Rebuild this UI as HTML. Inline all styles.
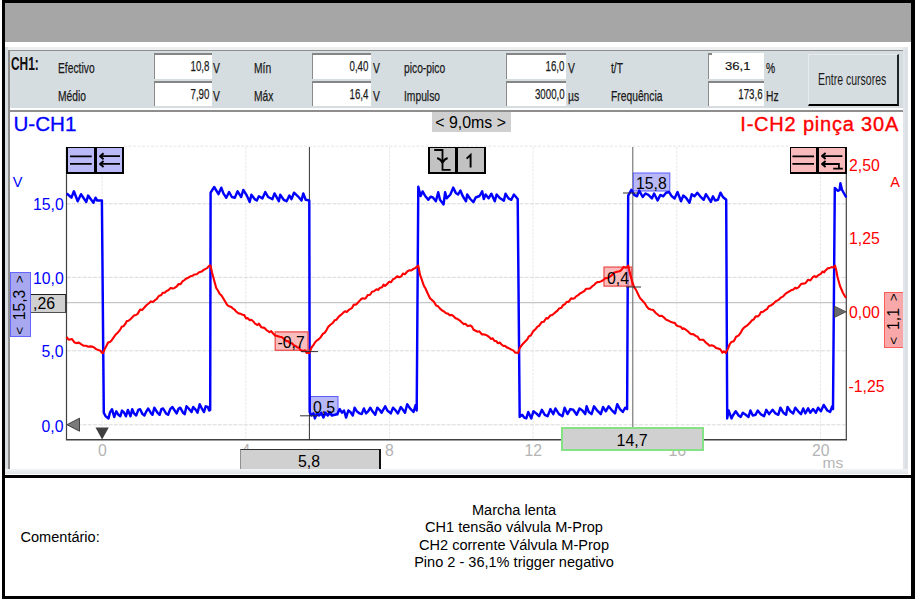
<!DOCTYPE html>
<html><head><meta charset="utf-8">
<style>
html,body{margin:0;padding:0;background:#fff;}
body{width:916px;height:600px;position:relative;overflow:hidden;font-family:"Liberation Sans",sans-serif;}
.a{position:absolute;}
.t{position:absolute;white-space:nowrap;line-height:1;}
.n{position:absolute;white-space:nowrap;line-height:1;font-size:14.6px;color:#1a1a1a;-webkit-text-stroke:0.25px #1a1a1a;transform-origin:0 50%;transform:scaleX(0.705);}
.nr{position:absolute;white-space:nowrap;line-height:1;font-size:14.6px;color:#1a1a1a;-webkit-text-stroke:0.25px #1a1a1a;transform-origin:100% 50%;transform:scaleX(0.665);text-align:right;}
.box{position:absolute;background:#fff;border-top:2px solid #858585;border-left:1.5px solid #8a8a8a;box-sizing:border-box;}
.ax{position:absolute;white-space:nowrap;line-height:1;font-size:15.8px;margin-top:0.3px;}
.g{stroke:#dadada;stroke-width:1;stroke-dasharray:4 1.2;}
.gv{stroke:#e7e7e7;stroke-width:1;stroke-dasharray:2.5 1.2;}
.g2{stroke:#e6e6e6;stroke-width:1;stroke-dasharray:3 1.5;}
.bk{font-size:13.5px;vertical-align:1.2px;}
</style></head>
<body>
<!-- outer frame -->
<div class="a" style="left:2px;top:0;width:912.8px;height:598.8px;background:#000;"></div>
<div class="a" style="left:5px;top:2.9px;width:906px;height:39.1px;background:#a6a6a6;"></div>
<div class="a" style="left:5px;top:42px;width:906px;height:433px;background:#fff;"></div>
<div class="a" style="left:5px;top:478px;width:906px;height:117.8px;background:#fff;"></div>

<!-- window inner frame -->
<div class="a" style="left:5px;top:46.8px;width:903px;height:3px;background:#eceef0;"></div>
<div class="a" style="left:5px;top:46.8px;width:3px;height:427px;background:#d8dde2;"></div>
<div class="a" style="left:902.8px;top:46.8px;width:4.9px;height:427px;background:#e2e6ea;"></div>
<div class="a" style="left:904.8px;top:49px;width:1.8px;height:424px;background:#d9dee3;"></div>
<div class="a" style="left:5px;top:468.7px;width:902.7px;height:5.2px;background:linear-gradient(#f2f3f4,#dfe4e7);"></div>
<!-- gray sunken lines -->
<div class="a" style="left:8px;top:49.5px;width:1.8px;height:419.2px;background:#8e8e8e;"></div>
<div class="a" style="left:8px;top:49.5px;width:894.8px;height:1.7px;background:#8e8e8e;"></div>
<!-- measurement panel -->
<div class="a" style="left:9.8px;top:51.2px;width:893px;height:56.6px;background:#d6dde0;"></div>
<div class="a" style="left:9.8px;top:107.8px;width:893px;height:2px;background:#fdfdfd;"></div>
<div class="a" style="left:8px;top:109.8px;width:894.8px;height:2px;background:#8e8e8e;"></div>
<!-- chart area -->
<div class="a" style="left:9.8px;top:111.8px;width:893px;height:356.9px;background:#fff;"></div>

<!-- panel content -->
<div class="t" style="left:11px;top:55px;font-size:18px;font-weight:bold;color:#111;transform-origin:0 50%;transform:scaleX(0.66);">CH1:</div>
<div class="n" style="left:57.5px;top:61px;">Efectivo</div>
<div class="n" style="left:57.5px;top:88.6px;">Médio</div>
<div class="box" style="left:154px;top:53px;width:57.5px;height:26px;"></div>
<div class="box" style="left:154px;top:81px;width:57.5px;height:25px;"></div>
<div class="nr" style="right:706.3px;top:59px;">10,8</div>
<div class="nr" style="right:706.3px;top:86.6px;">7,90</div>
<div class="n" style="left:213px;top:61px;">V</div>
<div class="n" style="left:213px;top:88.6px;">V</div>
<div class="n" style="left:254px;top:61px;">Mín</div>
<div class="n" style="left:254px;top:88.6px;">Máx</div>
<div class="box" style="left:312px;top:53px;width:58.5px;height:26px;"></div>
<div class="box" style="left:312px;top:81px;width:58.5px;height:25px;"></div>
<div class="nr" style="right:547.3px;top:59px;">0,40</div>
<div class="nr" style="right:547.3px;top:86.6px;">16,4</div>
<div class="n" style="left:372.5px;top:61px;">V</div>
<div class="n" style="left:372.5px;top:88.6px;">V</div>
<div class="n" style="left:403.5px;top:61px;">pico-pico</div>
<div class="n" style="left:403.5px;top:88.6px;">Impulso</div>
<div class="box" style="left:505.5px;top:53px;width:60.5px;height:26px;"></div>
<div class="box" style="left:505.5px;top:81px;width:60.5px;height:25px;"></div>
<div class="nr" style="right:351.8px;top:59px;">16,0</div>
<div class="nr" style="right:351.8px;top:86.6px;">3000,0</div>
<div class="n" style="left:567.5px;top:61px;">V</div>
<div class="n" style="left:567.5px;top:88.6px;">µs</div>
<div class="n" style="left:611px;top:61px;">t/T</div>
<div class="n" style="left:611px;top:88.6px;">Frequência</div>
<div class="box" style="left:707.5px;top:53px;width:56.5px;height:26px;"></div>
<div class="box" style="left:707.5px;top:81px;width:56.5px;height:25px;"></div>
<div class="a" style="left:712px;top:53px;width:52px;height:24px;background:#fff;"></div>
<div class="t" style="left:724.6px;top:60.3px;font-size:11.7px;transform-origin:0 50%;transform:scaleX(1.12);-webkit-text-stroke:0.15px #000;color:#111;">36,1</div>
<div class="nr" style="right:153.3px;top:86.6px;">173,6</div>
<div class="n" style="left:766px;top:61px;">%</div>
<div class="n" style="left:766px;top:88.6px;">Hz</div>
<!-- button -->
<div class="a" style="left:808px;top:53.5px;width:90.5px;height:52px;background:#d6dde0;box-sizing:border-box;border-right:2px solid #1c2426;border-bottom:2px solid #000;border-top:1px solid #e6ecee;border-left:1px solid #e6ecee;"></div>
<div class="t" style="left:818.3px;top:70.5px;font-size:17.3px;color:#1a1a1a;transform-origin:0 50%;transform:scaleX(0.607);">Entre cursores</div>

<!-- chart titles -->
<div class="t" style="left:13.5px;top:113.5px;font-size:20.6px;color:#0000ff;-webkit-text-stroke:0.3px #0000ff;">U-CH1</div>
<div class="t" style="left:740.3px;top:113.5px;font-size:20px;color:#ff0000;letter-spacing:0.8px;-webkit-text-stroke:0.35px #ff0000;">I-CH2 pinça 30A</div>
<div class="a" style="left:431.5px;top:112px;width:79px;height:20px;background:#d0d0d0;"></div>
<div class="ax" style="left:435.3px;top:114.4px;color:#000;font-size:15.9px;">&lt; 9,0ms &gt;</div>

<!-- axis labels -->
<div class="ax" style="left:12.7px;top:174.3px;color:#0000ff;font-size:14.5px;">V</div>
<div class="ax" style="left:33px;top:197px;color:#0000ff;">15,0</div>
<div class="ax" style="left:33px;top:270.5px;color:#0000ff;">10,0</div>
<div class="ax" style="left:41.5px;top:344px;color:#0000ff;">5,0</div>
<div class="ax" style="left:41.5px;top:418.5px;color:#0000ff;">0,0</div>
<div class="ax" style="left:849px;top:157.5px;color:#ff0000;">2,50</div>
<div class="ax" style="left:849px;top:231px;color:#ff0000;">1,25</div>
<div class="ax" style="left:849px;top:305px;color:#ff0000;">0,00</div>
<div class="ax" style="left:848.5px;top:378.5px;color:#ff0000;">-1,25</div>
<div class="ax" style="left:890.3px;top:174.3px;color:#ff0000;font-size:14.5px;">A</div>
<div class="ax" style="left:98px;top:442.5px;color:#b4b4b4;">0</div>
<div class="ax" style="left:241.5px;top:442.5px;color:#b4b4b4;">4</div>
<div class="ax" style="left:385px;top:442.5px;color:#b4b4b4;">8</div>
<div class="ax" style="left:524.5px;top:442.5px;color:#b4b4b4;">12</div>
<div class="ax" style="left:668.5px;top:442.5px;color:#b4b4b4;">16</div>
<div class="ax" style="left:812px;top:442.5px;color:#b4b4b4;">20</div>
<div class="ax" style="left:822.5px;top:454.5px;color:#b4b4b4;font-size:15.5px;">ms</div>

<!-- chart svg -->
<svg class="a" style="left:0;top:0;" width="916" height="600" viewBox="0 0 916 600">
<line x1="102.1" y1="147" x2="102.1" y2="439" class="gv"/><line x1="245.8" y1="147" x2="245.8" y2="439" class="gv"/><line x1="389.5" y1="147" x2="389.5" y2="439" class="gv"/><line x1="533.1" y1="147" x2="533.1" y2="439" class="gv"/><line x1="676.8" y1="147" x2="676.8" y2="439" class="gv"/><line x1="820.5" y1="147" x2="820.5" y2="439" class="gv"/><line x1="67" y1="203.8" x2="846" y2="203.8" class="g"/><line x1="67" y1="277.3" x2="846" y2="277.3" class="g"/><line x1="67" y1="350.8" x2="846" y2="350.8" class="g"/><line x1="67" y1="424.8" x2="846" y2="424.8" class="g"/><line x1="124" y1="146.2" x2="789" y2="146.2" class="g2"/>
<!-- horizontal cursor -->
<line x1="66" y1="302.6" x2="846" y2="302.6" stroke="#c6c6c6" stroke-width="1.3"/>
<!-- axes -->
<line x1="66.5" y1="147" x2="66.5" y2="440" stroke="#404040" stroke-width="1.2"/>
<line x1="846.3" y1="147" x2="846.3" y2="440" stroke="#404040" stroke-width="1.2"/>
<line x1="66" y1="439.8" x2="847" y2="439.8" stroke="#404040" stroke-width="1.5"/>
<!-- vertical cursors -->
<line x1="309.4" y1="147" x2="309.4" y2="440" stroke="#303030" stroke-width="1"/>
<line x1="632.8" y1="147" x2="632.8" y2="428" stroke="#606060" stroke-width="1"/>
<rect x="310.5" y="396.5" width="27.5" height="18.5" fill="#b8b8f6" stroke="#5c5cff" stroke-width="1"/>
<rect x="633.3" y="173" width="36.5" height="18" fill="#b8b8f6" stroke="#5c5cff" stroke-width="1"/>
<!-- waveforms -->
<path d="M66.8 193.5 L71.4 197.7 L73.9 191.3 L77.7 201.3 L81.0 194.2 L86.3 202.0 L88.1 195.6 L93.4 202.7 L95.5 197.7 L97.2 200.5 L101.9 200.5 L103.8 412.7 L105.6 416.3 L108.5 418.4 L109.9 412.7 L112.0 409.2 L114.2 417.0 L116.3 411.3 L118.4 414.8 L120.3 416.3 L122.0 410.6 L124.1 412.7 L125.9 416.3 L127.9 409.9 L130.5 416.3 L132.2 409.2 L134.0 413.4 L136.2 415.5 L138.3 409.9 L140.1 409.2 L142.5 414.1 L144.4 415.5 L146.4 411.3 L148.2 408.5 L151.1 413.4 L152.5 414.8 L154.3 407.7 L157.4 412.7 L159.6 414.8 L161.4 409.2 L163.1 408.5 L166.0 413.4 L168.1 414.8 L170.2 409.2 L172.3 407.0 L175.2 411.3 L176.6 413.4 L178.7 408.5 L180.2 407.7 L183.0 412.7 L184.7 414.1 L186.5 406.3 L188.7 408.5 L191.5 412.0 L193.2 407.0 L195.8 409.9 L197.5 412.7 L199.7 404.2 L202.2 409.2 L204.0 412.0 L205.7 406.3 L207.8 407.0 L209.2 410.6 L210.2 409.9 L210.6 192.7 L214.2 187.0 L218.5 194.1 L221.3 187.7 L223.4 193.4 L226.3 197.7 L229.1 192.0 L231.9 197.0 L234.8 197.7 L237.6 191.3 L241.2 197.0 L243.3 189.9 L246.8 195.5 L249.7 201.9 L251.4 194.8 L254.6 199.1 L256.8 200.5 L258.9 196.3 L262.4 198.4 L265.3 192.0 L268.1 197.0 L272.4 199.1 L274.5 193.4 L278.8 201.2 L280.2 194.8 L283.7 199.8 L286.6 201.2 L289.4 195.5 L291.5 199.1 L294.0 192.7 L297.9 196.3 L301.5 200.5 L303.3 193.4 L305.7 199.8 L309.3 200.5 L309.7 412.0 L311.4 415.5 L313.5 413.4 L314.9 418.4 L317.0 413.4 L319.2 415.5 L321.3 412.7 L323.4 417.6 L325.5 412.7 L327.7 415.5 L329.8 412.0 L331.9 415.5 L334.8 414.8 L337.2 414.1 L339.7 409.1 L341.9 412.7 L344.0 410.5 L346.1 417.6 L348.3 410.5 L350.4 412.0 L352.8 415.5 L354.6 407.7 L356.8 411.3 L359.6 413.4 L361.7 414.1 L363.9 408.4 L366.0 413.4 L368.1 411.3 L370.3 407.7 L372.4 411.3 L375.2 414.8 L377.3 407.7 L379.5 409.8 L381.6 412.7 L385.2 406.3 L387.3 410.5 L390.8 413.4 L393.0 407.7 L395.1 409.8 L397.9 413.4 L400.8 407.0 L402.9 409.8 L405.0 412.7 L407.2 404.2 L410.0 408.4 L413.5 412.0 L415.7 404.9 L416.7 410.5 L418.3 186.8 L420.6 196.0 L422.6 191.4 L425.2 196.0 L428.3 199.8 L430.6 196.7 L432.9 197.5 L435.9 201.3 L438.2 192.2 L440.0 199.8 L443.6 204.4 L445.1 192.2 L446.6 198.3 L450.4 194.5 L453.2 187.6 L455.8 192.9 L458.1 194.5 L460.4 190.6 L462.7 196.0 L466.0 201.3 L467.2 194.5 L470.3 199.0 L473.4 202.1 L475.7 197.5 L479.5 196.0 L482.2 191.4 L483.8 199.0 L485.6 194.5 L488.6 198.3 L491.4 193.7 L494.8 201.3 L496.6 194.5 L500.1 198.3 L503.9 200.6 L505.5 193.7 L508.5 198.3 L511.3 199.8 L513.9 194.5 L517.7 199.0 L519.7 416.9 L522.1 414.8 L524.2 417.6 L526.3 418.4 L528.2 412.0 L531.3 418.4 L533.4 411.3 L536.3 413.4 L539.1 416.2 L541.9 409.8 L544.8 414.8 L547.6 416.2 L550.4 409.1 L553.3 414.1 L555.4 408.4 L559.0 414.1 L562.5 416.2 L564.6 407.7 L567.5 414.1 L570.3 409.1 L573.2 409.8 L576.7 414.8 L579.5 408.4 L582.4 410.5 L585.2 414.1 L586.6 406.3 L588.8 412.0 L591.6 414.1 L594.0 406.3 L596.6 409.8 L600.8 414.1 L603.0 407.0 L605.8 411.3 L608.6 406.3 L611.5 409.8 L615.0 413.4 L617.2 404.2 L620.0 409.1 L622.8 412.0 L625.2 407.7 L627.1 409.1 L628.2 195.6 L631.4 189.9 L634.2 194.9 L637.0 196.3 L639.2 190.6 L642.7 197.0 L645.5 193.5 L648.4 194.9 L651.9 198.4 L654.1 193.5 L657.6 200.5 L660.4 194.9 L663.3 196.3 L666.1 192.7 L669.0 192.0 L671.8 196.3 L674.6 198.4 L677.5 192.0 L681.0 201.3 L683.2 195.6 L686.0 197.7 L689.5 202.7 L691.7 194.2 L694.5 196.3 L697.3 192.7 L700.2 196.3 L703.7 199.8 L705.9 194.2 L708.7 198.4 L710.8 202.0 L713.0 196.3 L715.1 200.5 L717.9 199.8 L720.5 192.7 L722.9 197.0 L726.2 199.8 L727.2 418.4 L728.6 410.5 L731.5 418.4 L732.9 415.5 L735.7 411.3 L738.6 415.5 L740.7 416.9 L742.8 412.7 L745.7 414.8 L748.5 416.9 L750.4 410.5 L752.8 415.5 L755.6 414.8 L757.7 410.5 L760.6 414.1 L764.1 416.2 L766.3 409.8 L769.1 414.1 L772.6 409.8 L775.5 413.4 L778.3 414.8 L780.4 407.7 L783.3 412.7 L786.1 414.8 L787.5 407.0 L790.4 411.3 L793.2 413.4 L795.3 407.7 L798.2 411.3 L801.0 414.1 L803.2 408.4 L805.3 413.4 L808.1 408.4 L810.3 412.7 L813.1 409.1 L815.9 412.7 L818.1 407.7 L820.9 411.3 L823.7 404.9 L827.3 410.5 L830.1 412.0 L832.2 406.3 L833.0 409.1 L834.8 187.9 L837.9 190.8 L839.6 190.0 L840.4 183.3 L842.1 190.0 L846.3 197.5" fill="none" stroke="#0000ff" stroke-width="2.45" stroke-linejoin="round"/>
<rect x="275.2" y="331.9" width="32.8" height="18.4" fill="rgba(248,172,172,0.8)" stroke="#ee5050" stroke-width="1.3"/>
<rect x="604" y="267.1" width="27.8" height="19" fill="rgba(248,172,172,0.8)" stroke="#ee5050" stroke-width="1.3"/>
<path d="M66.5 337.0 L68.3 339.4 L69.9 339.6 L72.0 339.0 L74.4 342.4 L76.6 343.1 L79.0 342.6 L81.0 344.1 L83.4 345.6 L85.8 345.8 L88.3 346.8 L90.5 346.4 L91.9 346.6 L93.8 347.2 L96.2 349.1 L98.3 350.0 L100.5 350.7 L101.9 352.8 L103.0 353.0 L105.0 348.4 L106.5 345.8 L108.2 342.3 L109.9 342.1 L111.6 340.4 L114.2 336.6 L116.0 334.2 L118.2 332.2 L120.4 329.3 L121.9 326.5 L123.6 326.2 L125.3 323.9 L126.8 321.1 L128.5 320.8 L130.7 319.0 L132.5 317.1 L134.4 315.3 L136.0 315.0 L137.6 313.9 L140.1 309.6 L142.1 310.1 L144.6 307.2 L146.4 305.3 L148.9 303.3 L151.0 301.4 L153.0 301.9 L154.6 300.4 L156.6 299.2 L158.8 296.0 L161.3 295.0 L162.7 292.8 L164.7 292.7 L166.5 290.9 L168.3 290.2 L170.7 287.9 L173.0 288.6 L174.6 287.9 L176.8 286.4 L178.6 284.0 L180.4 284.3 L182.5 281.4 L184.5 280.0 L185.9 278.7 L188.3 277.7 L190.8 276.2 L192.6 275.8 L194.2 274.5 L196.7 274.3 L199.1 272.3 L201.6 271.6 L203.7 269.9 L205.1 269.1 L207.1 268.1 L209.2 265.7 L210.5 265.6 L212.1 272.8 L213.9 279.6 L216.2 287.9 L217.9 290.5 L219.6 293.7 L221.5 295.5 L223.1 298.1 L225.6 302.3 L227.2 305.1 L229.8 306.6 L231.4 307.1 L232.9 308.6 L234.4 309.4 L236.1 311.5 L238.6 313.4 L240.5 313.7 L242.5 314.8 L244.3 315.1 L246.1 318.4 L247.6 318.1 L249.8 320.3 L251.4 319.8 L253.1 321.2 L255.1 323.7 L257.5 325.0 L258.9 323.7 L261.2 327.2 L263.1 327.6 L264.5 327.9 L267.0 330.5 L269.5 332.2 L271.2 331.1 L272.7 333.0 L275.0 335.4 L277.2 335.9 L279.6 336.8 L281.6 337.0 L284.0 338.8 L286.5 341.3 L288.2 341.0 L289.9 343.3 L292.2 343.3 L293.6 345.2 L295.7 346.0 L297.4 347.5 L298.8 347.6 L300.8 350.3 L303.0 351.2 L304.9 350.4 L306.6 353.0 L308.9 352.3 L309.3 353.0 L311.5 347.5 L313.2 345.3 L315.7 341.5 L317.2 340.3 L319.1 338.9 L320.7 337.2 L323.0 333.7 L324.6 332.9 L326.4 330.3 L328.1 327.1 L330.4 324.8 L333.0 322.7 L334.6 320.3 L336.5 319.7 L339.0 316.3 L340.9 314.9 L343.5 312.5 L344.9 311.2 L346.8 311.9 L349.2 309.6 L351.8 308.2 L353.6 304.9 L356.2 304.4 L357.6 303.0 L359.5 300.9 L361.3 299.0 L362.7 298.3 L364.5 298.8 L366.0 297.8 L367.7 295.1 L370.1 294.7 L372.0 291.7 L374.0 291.3 L376.5 289.3 L378.3 290.0 L379.7 287.9 L382.1 287.3 L383.6 284.6 L385.0 285.9 L386.7 284.4 L389.2 281.8 L390.9 282.3 L393.1 279.2 L395.3 278.1 L397.1 276.3 L399.4 277.2 L401.5 276.1 L403.0 273.5 L404.9 274.2 L407.5 271.3 L409.2 270.4 L411.2 270.5 L412.8 269.3 L415.1 268.1 L417.4 266.3 L418.3 265.6 L420.1 275.1 L421.6 279.1 L423.9 285.9 L425.4 288.3 L427.5 293.0 L430.0 298.3 L432.6 300.6 L434.1 302.0 L436.1 305.6 L438.1 306.3 L440.0 308.6 L442.2 310.5 L444.6 311.9 L446.1 313.3 L447.9 313.6 L449.7 315.2 L451.4 314.9 L453.1 315.7 L455.5 318.2 L457.3 318.8 L459.9 320.6 L461.6 322.3 L463.8 324.1 L465.3 323.7 L467.7 326.0 L470.2 325.4 L471.9 326.6 L473.6 329.7 L475.7 330.8 L477.5 331.7 L479.4 331.3 L481.8 334.4 L483.3 334.4 L485.5 334.7 L487.3 335.6 L488.9 336.8 L491.1 339.0 L492.7 338.3 L494.5 341.0 L496.1 341.0 L497.8 343.2 L499.8 342.5 L501.3 344.2 L503.4 346.0 L504.9 345.7 L507.1 347.6 L508.9 348.3 L511.4 349.6 L513.5 350.6 L515.4 352.7 L518.0 352.6 L518.2 353.0 L519.8 347.8 L522.3 344.5 L524.7 342.0 L527.2 339.5 L528.8 336.4 L530.8 335.5 L533.3 331.1 L535.5 329.2 L537.5 326.6 L539.2 325.7 L541.7 322.1 L543.7 321.8 L546.3 318.0 L547.8 318.6 L550.4 315.3 L551.9 315.2 L553.7 313.7 L555.9 311.9 L557.5 310.6 L559.1 308.4 L561.5 307.7 L563.2 304.9 L565.0 304.2 L566.9 301.7 L568.6 301.9 L571.1 298.4 L573.1 298.8 L574.6 298.1 L576.1 296.4 L578.2 295.1 L580.0 293.5 L582.1 292.3 L584.3 291.0 L586.2 288.8 L588.3 288.7 L590.0 288.4 L592.3 286.2 L594.0 285.2 L595.5 283.4 L597.4 282.1 L599.3 282.0 L600.8 281.4 L602.3 280.7 L604.6 278.8 L606.1 278.0 L607.9 278.0 L609.5 276.9 L612.1 275.1 L614.5 272.4 L617.0 271.7 L619.6 271.3 L621.2 270.1 L623.7 266.9 L625.5 267.7 L627.1 267.2 L628.3 265.6 L629.9 273.1 L632.4 282.1 L634.1 287.1 L635.9 289.6 L637.5 293.0 L640.0 298.1 L642.5 300.7 L644.8 303.2 L646.9 306.7 L648.7 308.7 L650.8 309.4 L653.2 310.0 L655.8 313.0 L657.7 314.5 L659.4 316.0 L661.5 315.7 L663.8 317.3 L665.4 319.0 L666.9 320.1 L668.6 320.7 L671.2 322.1 L673.4 322.8 L674.8 322.9 L676.4 325.3 L678.3 326.2 L680.7 326.7 L682.4 329.0 L683.8 328.3 L685.7 329.6 L687.5 331.0 L689.6 333.1 L691.2 334.2 L693.2 334.1 L695.7 335.9 L697.3 336.4 L699.5 339.6 L701.8 339.8 L703.5 339.9 L705.7 342.5 L707.5 343.8 L709.5 345.7 L711.7 345.3 L714.2 346.2 L716.3 348.3 L718.0 348.4 L720.3 349.3 L722.4 352.6 L723.9 351.4 L725.8 353.0 L728.0 348.6 L729.6 344.5 L731.3 342.0 L733.8 341.3 L736.1 336.7 L738.5 335.6 L740.4 333.2 L742.4 329.5 L743.9 327.8 L745.4 326.6 L747.7 325.1 L750.1 322.6 L751.8 320.5 L753.7 319.4 L755.7 316.4 L757.9 316.4 L759.6 314.8 L761.0 312.1 L762.7 312.0 L765.2 310.1 L767.0 309.1 L768.8 306.2 L771.3 305.2 L773.5 303.6 L776.1 301.1 L778.5 299.9 L780.9 297.6 L783.2 296.4 L785.0 294.3 L787.1 292.6 L789.6 291.3 L791.0 290.3 L793.5 289.4 L795.1 287.7 L796.6 288.5 L798.7 287.1 L801.0 284.1 L803.1 283.6 L805.5 283.2 L808.0 279.8 L810.4 280.5 L812.9 277.0 L814.6 276.1 L816.0 277.1 L818.4 275.2 L820.8 273.8 L822.5 271.5 L824.1 272.3 L825.7 270.2 L827.6 268.4 L829.3 268.1 L831.6 267.1 L833.4 267.6 L835.0 265.6 L836.2 270.0 L837.5 277.0 L840.0 286.0 L843.0 293.0 L846.0 298.0" fill="none" stroke="#ff0000" stroke-width="2.1" stroke-linejoin="round"/>
<!-- ticks -->
<line x1="301" y1="351.6" x2="318" y2="351.6" stroke="#303030" stroke-width="1"/>
<line x1="300" y1="415.8" x2="318" y2="415.8" stroke="#303030" stroke-width="1"/>
<line x1="623" y1="193" x2="638" y2="193" stroke="#303030" stroke-width="1"/>
<line x1="626" y1="287" x2="641" y2="287" stroke="#303030" stroke-width="1"/>
<!-- markers -->
<polygon points="67,424.7 79.5,418.2 79.5,431.2" fill="#7a7a7a" stroke="#404040" stroke-width="1"/>
<polygon points="95.5,427.5 108.8,427.5 102.1,439.5" fill="#404040"/>
<polygon points="834.5,306.2 846,311.8 834.5,317.4" fill="#6a6a6a" stroke="#404040" stroke-width="0.8"/>
</svg>

<!-- icon boxes -->
<div class="a" style="left:66px;top:146.6px;width:57.5px;height:27.4px;background:#000;"></div>
<div class="a" style="left:67.6px;top:148.2px;width:26.6px;height:24.2px;background:#babaf8;"></div>
<div class="a" style="left:96.5px;top:148.2px;width:25.4px;height:24.2px;background:#babaf8;"></div>
<div class="a" style="left:428.2px;top:146.6px;width:57.4px;height:27.5px;background:#000;"></div>
<div class="a" style="left:429.9px;top:148.3px;width:25.4px;height:24.1px;background:#c2c2c2;"></div>
<div class="a" style="left:458.2px;top:148.3px;width:25.7px;height:24.1px;background:#c2c2c2;"></div>
<div class="a" style="left:789.5px;top:146.6px;width:57.5px;height:27.4px;background:#000;"></div>
<div class="a" style="left:791.1px;top:148.2px;width:25.1px;height:24.2px;background:#f8baba;"></div>
<div class="a" style="left:818.7px;top:148.2px;width:26.7px;height:24.2px;background:#f8baba;"></div>
<svg class="a" style="left:0;top:0;" width="916" height="600" viewBox="0 0 916 600" fill="none" stroke="#000" stroke-width="1.9">
<path d="M70 156.4H91.7 M70 163.9H91.7" stroke-width="1.8"/>
<path d="M100.5 156.2H120 M100.5 163.9H120" stroke-width="1.8"/>
<path d="M103.6 153.2L100 156.2L103.6 159.2 M103.6 160.9L100 163.9L103.6 166.9" stroke-width="1.9" stroke-linejoin="round"/>
<path d="M434.2 150H442.5V169.8H450.6" stroke-width="1.8"/>
<path d="M437.2 158Q440.5 159 442.5 162.4Q444.5 159 447.6 158" stroke-width="2.2"/>
<path d="M466.6 158.6L470.6 155V167.6" stroke-width="1.9"/>
<path d="M792.4 156.4H814 M792.4 163.9H814" stroke-width="1.8"/>
<path d="M822.5 156.1H842.4 M822.5 164H838.9V168.7 M833.2 168.7H842.8" stroke-width="1.8"/>
<path d="M825.6 153.1L822 156.1L825.6 159.1 M825.6 161L822 164L825.6 167" stroke-width="1.9" stroke-linejoin="round"/>
</svg>

<!-- cursor value labels -->
<div class="ax" style="left:277.5px;top:334.5px;color:#000;">-0,7</div>
<div class="ax" style="left:313px;top:399.5px;color:#000;">0,5</div>
<div class="ax" style="left:636px;top:175.5px;color:#000;">15,8</div>
<div class="ax" style="left:607px;top:270.5px;color:#000;">0,4</div>

<!-- side range labels -->
<div class="a" style="left:9.5px;top:271.5px;width:21.5px;height:65.5px;box-sizing:border-box;background:#a8a8f0;border:1px solid #6464ff;"></div>
<div class="ax" style="left:20.2px;top:304.6px;color:#000;font-size:15.7px;word-spacing:2.2px;transform:translate(-50%,-50%) rotate(-90deg);"><span class="bk">&lt;</span> 15,3 <span class="bk">&gt;</span></div>
<div class="a" style="left:883.5px;top:291.5px;width:19.5px;height:56px;box-sizing:border-box;background:#f8a8a8;border:1px solid #ff5a5a;border-right:none;"></div>
<div class="ax" style="left:893.5px;top:318.7px;color:#000;font-size:15.7px;word-spacing:2.6px;transform:translate(-50%,-50%) rotate(-90deg);"><span class="bk">&lt;</span> 1,1 <span class="bk">&gt;</span></div>
<!-- 8,26 box -->
<div class="a" style="left:31px;top:293.5px;width:34.5px;height:19.5px;box-sizing:border-box;background:#d0d0d0;border-top:1.5px solid #202020;border-bottom:1.5px solid #505050;border-right:1.5px solid #404040;"></div>
<div class="ax" style="left:33px;top:296px;color:#000;">,26</div>

<!-- bottom cursor boxes -->
<div class="a" style="left:239.5px;top:449px;width:141px;height:20px;box-sizing:border-box;background:#d0d0d0;border-top:1.5px solid #303030;border-left:1px solid #909090;border-right:2.5px solid #101010;"></div>
<div class="ax" style="left:298px;top:453.5px;color:#000;">5,8</div>
<div class="a" style="left:561px;top:427px;width:142.5px;height:23.5px;box-sizing:border-box;background:#d0d0d0;border:2.5px solid #86e086;"></div>
<div class="ax" style="left:616.5px;top:432.4px;color:#000;font-size:16px;">14,7</div>

<!-- comment -->
<div class="t" style="left:20.5px;top:529.8px;font-size:14.55px;color:#000;">Comentário:</div>
<div class="t" style="left:314px;width:400px;text-align:center;top:502.5px;font-size:14.55px;color:#000;">Marcha lenta</div>
<div class="t" style="left:314px;width:400px;text-align:center;top:520px;font-size:14.55px;color:#000;">CH1 tensão válvula M-Prop</div>
<div class="t" style="left:314px;width:400px;text-align:center;top:537.5px;font-size:14.55px;color:#000;">CH2 corrente Válvula M-Prop</div>
<div class="t" style="left:314px;width:400px;text-align:center;top:555px;font-size:14.55px;color:#000;">Pino 2 - 36,1% trigger negativo</div>
</body></html>
